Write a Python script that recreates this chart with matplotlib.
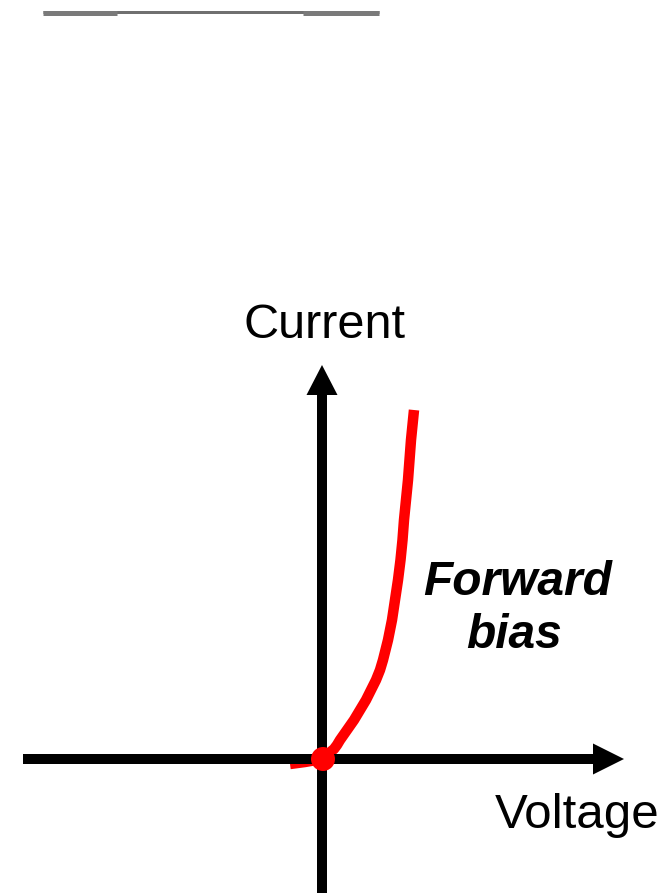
import matplotlib
matplotlib.use("Agg")
import matplotlib.pyplot as plt
from matplotlib.patches import FancyArrow, Circle

# Diode I-V curve (forward bias), arbitrary units (origin at the axes crossing)
voltage = [-32, -17, 0, 6, 12, 15, 18, 25, 32, 38, 44, 49, 54, 58, 61,
           63.5, 66, 68, 70, 73, 76, 78.5, 80.5, 82, 84, 86, 87.5, 89, 91, 92]
current = [-5, -3, 0, 5, 10, 14, 19, 29, 39, 49, 59, 69, 79, 89, 99,
           109, 119, 129, 139, 159, 179, 199, 219, 239, 259, 279, 299, 319, 339, 349]

x_label = "Voltage"
y_label = "Current"
annotation = ["Forward", "bias"]

W, H = 661, 893
fig = plt.figure(figsize=(W / 100, H / 100), dpi=100)
ax = fig.add_axes([0, 0, 1, 1])
ax.set_xlim(-322, W - 322)
ax.set_ylim(759 - H, 759)
ax.set_aspect("equal")
ax.axis("off")

px = 0.72  # points per pixel

# decorative gray rule at top
ax.plot([-279, 57], [747.5, 747.5], color="#707070", lw=3 * px, solid_capstyle="butt", zorder=1)
ax.plot([-279, -205], [746.5, 746.5], color="#7a7a7a", lw=5 * px, solid_capstyle="butt", zorder=1)
ax.plot([-19, 57], [746.5, 746.5], color="#7a7a7a", lw=5 * px, solid_capstyle="butt", zorder=1)

# curve
ax.plot(voltage, current, color="#ff0000", lw=10.5 * px, solid_capstyle="butt",
        solid_joinstyle="round", zorder=1)

# axes arrows
ax.add_patch(FancyArrow(-299, 0, 601, 0, width=10, head_width=31, head_length=31,
                        length_includes_head=True, color="black", lw=0, zorder=2))
ax.add_patch(FancyArrow(0, -140, 0, 534, width=10, head_width=31, head_length=30,
                        length_includes_head=True, color="black", lw=0, zorder=2))

# origin dot
ax.add_patch(Circle((1, 0), 12, color="#ff0000", lw=0, zorder=3))

font = "Liberation Sans"
ax.text(3, 421, y_label, fontsize=35, family=font, ha="center", va="baseline")
ax.text(173, -69, x_label, fontsize=35.5, family=font, ha="left", va="baseline")
ax.text(196, 164, annotation[0], fontsize=34.5, family=font, weight="bold",
        style="italic", ha="center", va="baseline")
ax.text(192, 111, annotation[1], fontsize=34.5, family=font, weight="bold",
        style="italic", ha="center", va="baseline")

fig.savefig("out.png", dpi=100)
